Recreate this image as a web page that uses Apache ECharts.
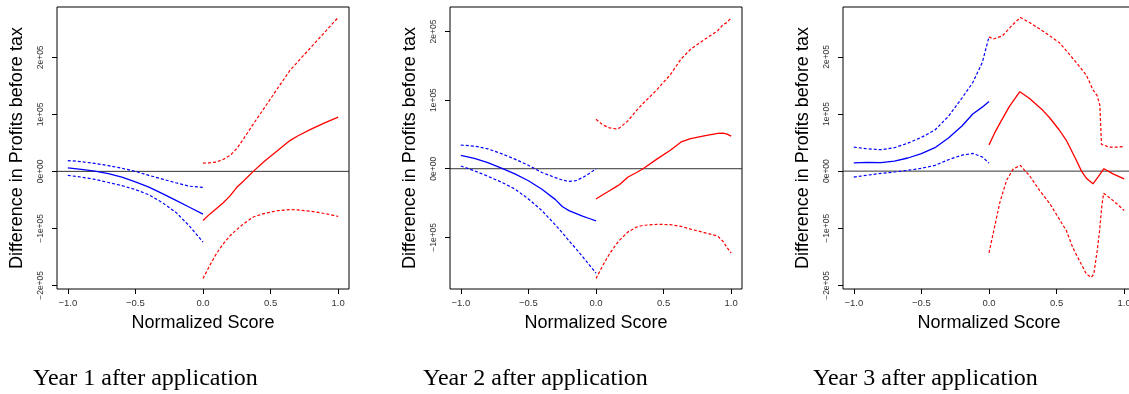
<!DOCTYPE html>
<html>
<head>
<meta charset="utf-8">
<script src="https://cdn.jsdelivr.net/npm/echarts@6/dist/echarts.min.js"></script>
<style>
html,body{margin:0;padding:0;background:#fff;}
#chart{width:1129px;height:394px;}
</style>
</head>
<body>
<div id="chart"></div>
<script>
// ---------- tick labels ----------
var xTickValues = [-1, -0.5, 0, 0.5, 1];
var xTickLabels = ['\u22121.0', '\u22120.5', '0.0', '0.5', '1.0'];
var yTickValues = [-200000, -100000, 0, 100000, 200000];
var yTickLabels = ['\u22122e+05', '\u22121e+05', '0e+00', '1e+05', '2e+05'];
var panelTitles = ['Year 1 after application', 'Year 2 after application', 'Year 3 after application'];
var xAxisTitle = 'Normalized Score';
var yAxisTitle = 'Difference in Profits before tax';

// ---------- Year 1 ----------
var p1BlueX   = [-1, -0.9, -0.8, -0.7, -0.6, -0.5, -0.4, -0.3, -0.2, -0.1, 0];
var p1BlueFit = [6000, 3500, 600, -4000, -10000, -18500, -27500, -39000, -51000, -63000, -75000];
var p1BlueUp  = [19000, 17000, 14000, 10000, 5500, 0, -7000, -13500, -20000, -26000, -28000];
var p1BlueLo  = [-7000, -10000, -14000, -19500, -25000, -32000, -41000, -55000, -72000, -96000, -124000];
var p1RedX    = [0, 0.05, 0.1, 0.15, 0.2, 0.25, 0.3, 0.372, 0.45, 0.55, 0.643, 0.7, 0.8, 0.9, 1.0];
var p1RedFit  = [-86000, -75000, -65000, -55000, -43000, -28000, -17000, 0, 17000, 36000, 54000, 62000, 74000, 85000, 95000];
var p1RedUp   = [14500, 15000, 16500, 21000, 28000, 40000, 57000, 83000, 110000, 145000, 177000, 192000, 218000, 244000, 270000];
var p1RedLo   = [-188000, -165000, -144000, -127000, -113000, -102000, -92000, -80000, -74000, -69000, -67000, -67500, -70000, -74000, -79000];

// ---------- Year 2 ----------
var p2BlueX   = [-1, -0.9, -0.8, -0.7, -0.6, -0.5, -0.4, -0.3, -0.25, -0.2, -0.15, -0.1, -0.05, 0];
var p2BlueFit = [19500, 15000, 9000, 1000, -7500, -17500, -30000, -45000, -55000, -61000, -65000, -69000, -72500, -76000];
var p2BlueUp  = [34500, 33000, 29000, 22000, 14000, 5000, -5500, -13000, -16500, -18500, -17500, -13000, -7000, 0];
var p2BlueLo  = [4000, -3000, -11000, -19500, -29500, -44000, -61000, -82000, -93000, -105000, -116000, -128000, -140000, -152000];
var p2RedX    = [0, 0.05, 0.1, 0.15, 0.175, 0.237, 0.3, 0.348, 0.45, 0.55, 0.63, 0.7, 0.8, 0.9, 0.94, 0.97, 1.0];
var p2RedFit  = [-44000, -38000, -32000, -26000, -23000, -12000, -5500, 0, 14000, 27000, 39000, 44000, 48000, 51500, 52000, 50500, 47500];
var p2RedUp   = [72000, 64000, 59500, 58000, 59500, 70000, 85000, 95000, 115000, 137000, 160000, 174000, 188000, 201000, 210000, 213000, 220000];
var p2RedLo   = [-160000, -141000, -124000, -110000, -104000, -92000, -85000, -82500, -81000, -81500, -84000, -88000, -93000, -98000, -106000, -115000, -123000];

// ---------- Year 3 ----------
var p3BlueX   = [-1, -0.9, -0.8, -0.7, -0.6, -0.5, -0.4, -0.3, -0.2, -0.12, -0.05, 0];
var p3BlueFit = [14500, 15500, 15000, 17500, 23000, 30500, 41000, 58000, 79000, 100000, 112000, 122000];
var p3BlueUp  = [42000, 39000, 37500, 41000, 49000, 59000, 72000, 96000, 128000, 155000, 190000, 235000];
var p3BlueLo  = [-10500, -7000, -4000, -1500, 1500, 5000, 10000, 20000, 28000, 31000, 25000, 14000];
var p3RedFitX = [0, 0.04, 0.08, 0.15, 0.228, 0.3, 0.4, 0.45, 0.52, 0.572, 0.646, 0.684, 0.724, 0.769, 0.81, 0.85, 0.917, 1.0];
var p3RedFit  = [46000, 66000, 83500, 113000, 139000, 127000, 106000, 93000, 72000, 54000, 19000, 0, -13400, -22200, -9000, 4200, -4700, -13400];
var p3RedUpX  = [0, 0.03, 0.1, 0.17, 0.232, 0.3, 0.4, 0.52, 0.6, 0.67, 0.72, 0.77, 0.8, 0.82, 0.832, 0.89, 0.95, 1.0];
var p3RedUp   = [235000, 231000, 237000, 255000, 269000, 260000, 245000, 225000, 203000, 183000, 168000, 142000, 132000, 115000, 47000, 42000, 42000, 43000];
var p3RedLoX  = [0, 0.04, 0.08, 0.13, 0.18, 0.232, 0.3, 0.375, 0.45, 0.52, 0.572, 0.62, 0.683, 0.72, 0.757, 0.775, 0.8, 0.818, 0.835, 0.848, 0.9, 0.95, 1.0];
var p3RedLo   = [-143000, -99000, -55000, -16000, 4000, 10000, -8000, -34000, -57000, -84000, -104000, -134000, -163000, -180000, -186000, -180000, -140000, -104000, -60000, -38700, -48000, -58000, -69000];

// ---------- build ----------
function zip(xs, ys) { return xs.map(function (x, i) { return [x, ys[i]]; }); }

var panels = [
  { left: 57,  yMin: -206320, yMax: 288320,
    lines: [[p1BlueX, p1BlueFit, 'b', 0], [p1BlueX, p1BlueUp, 'b', 1], [p1BlueX, p1BlueLo, 'b', 1],
            [p1RedX, p1RedFit, 'r', 0], [p1RedX, p1RedUp, 'r', 1], [p1RedX, p1RedLo, 'r', 1]] },
  { left: 450, yMin: -175216, yMax: 235616,
    lines: [[p2BlueX, p2BlueFit, 'b', 0], [p2BlueX, p2BlueUp, 'b', 1], [p2BlueX, p2BlueLo, 'b', 1],
            [p2RedX, p2RedFit, 'r', 0], [p2RedX, p2RedUp, 'r', 1], [p2RedX, p2RedLo, 'r', 1]] },
  { left: 843, yMin: -206280, yMax: 287280,
    lines: [[p3BlueX, p3BlueFit, 'b', 0], [p3BlueX, p3BlueUp, 'b', 1], [p3BlueX, p3BlueLo, 'b', 1],
            [p3RedFitX, p3RedFit, 'r', 0], [p3RedUpX, p3RedUp, 'r', 1], [p3RedLoX, p3RedLo, 'r', 1]] }
];
var captionLefts = [33, 423, 813];

var grids = [], xAxes = [], yAxes = [], series = [], graphics = [];
var SANS = 'Liberation Sans, Arial, Helvetica, sans-serif';
panels.forEach(function (p, i) {
  grids.push({ left: p.left, top: 7, width: 292, height: 282, show: true,
               borderColor: '#000', borderWidth: 1, backgroundColor: 'transparent',
               containLabel: false, outerBoundsMode: 'none' });
  xAxes.push({
    gridIndex: i, type: 'value', min: -1.08, max: 1.08, position: 'bottom',
    axisLine: { show: false, onZero: false }, splitLine: { show: false },
    axisTick: { show: true, inside: false, length: 5, customValues: xTickValues, lineStyle: { color: '#000', width: 1 } },
    axisLabel: { show: true, customValues: xTickValues, margin: 9, fontSize: 9.5, color: '#333', fontFamily: SANS,
                 formatter: function (v) { var k = xTickValues.indexOf(v); return k >= 0 ? xTickLabels[k] : ''; } },
    name: xAxisTitle, nameLocation: 'middle', nameGap: 25, nameMoveOverlap: false,
    nameTextStyle: { fontSize: 18, color: '#000', fontFamily: SANS }
  });
  var yv = yTickValues.filter(function (v) { return v >= p.yMin && v <= p.yMax; });
  yAxes.push({
    gridIndex: i, type: 'value', min: p.yMin, max: p.yMax, position: 'left',
    axisLine: { show: false, onZero: false }, splitLine: { show: false },
    axisTick: { show: true, inside: false, length: 5, customValues: yv, lineStyle: { color: '#000', width: 1 } },
    axisLabel: { show: true, customValues: yv, rotate: 90, margin: 12, fontSize: 8.5, color: '#333', fontFamily: SANS,
                 formatter: function (v) { var k = yTickValues.indexOf(v); return k >= 0 ? yTickLabels[k] : ''; } },
    name: yAxisTitle, nameLocation: 'middle', nameGap: 31, nameMoveOverlap: false,
    nameTextStyle: { fontSize: 18, color: '#000', fontFamily: SANS }
  });
  series.push({
    type: 'line', xAxisIndex: i, yAxisIndex: i, data: [[-1.08, 0], [1.08, 0]],
    showSymbol: false, silent: true, lineStyle: { color: '#333', width: 1 }, z: 1
  });
  p.lines.forEach(function (l) {
    series.push({
      type: 'line', xAxisIndex: i, yAxisIndex: i, data: zip(l[0], l[1]),
      showSymbol: false, smooth: false, silent: true, z: 2,
      lineStyle: { color: l[2] === 'b' ? '#0000ff' : '#ff0000', width: l[3] ? 1.2 : 1.3,
                   type: l[3] ? [3, 2] : 'solid' }
    });
  });
  graphics.push({
    type: 'text', left: captionLefts[i], top: 367,
    style: { text: panelTitles[i], fontSize: 24, fontFamily: 'Liberation Serif, Times New Roman, serif', fill: '#000' }
  });
});

var chart = echarts.init(document.getElementById('chart'), null, { renderer: 'canvas' });
chart.setOption({
  animation: false,
  backgroundColor: '#fff',
  grid: grids, xAxis: xAxes, yAxis: yAxes, series: series, graphic: graphics
});
</script>
</body>
</html>
